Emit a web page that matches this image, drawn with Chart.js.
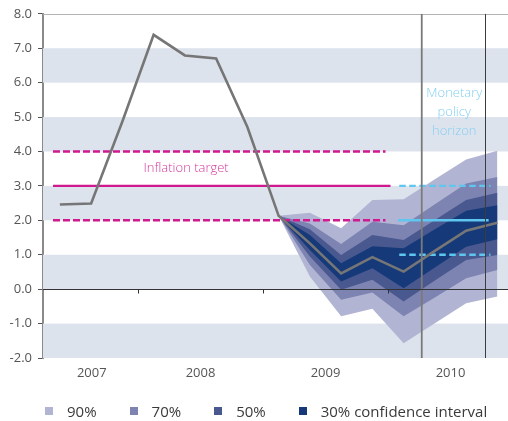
<!DOCTYPE html>
<html>
<head>
<meta charset="utf-8">
<script src="https://cdn.jsdelivr.net/npm/chart.js@4.4.1/dist/chart.umd.min.js"></script>
<style>
  html, body { margin: 0; padding: 0; background: #fff; }
  #wrap { position: relative; width: 508px; height: 421px; }
  #legend { position: absolute; left: 45px; top: 401px; display: flex; align-items: center;
            font: 15px 'Open Sans', sans-serif; color: #3a3a3a; white-space: nowrap; }
  .item { display: flex; align-items: center; margin-right: 33px; }
  .sw { width: 8px; height: 8px; margin-right: 14px; }
</style>
</head>
<body>
<div id="wrap">
  <canvas id="chart" width="508" height="421"></canvas>
  <div id="legend"></div>
</div>
<script>
// Quarterly inflation, outturn and central projection (percent)
const quarters = ['2007 Q2', '2007 Q3', '2007 Q4', '2008 Q1', '2008 Q2', '2008 Q3', '2008 Q4',
                  '2009 Q1', '2009 Q2', '2009 Q3', '2009 Q4', '2010 Q1', '2010 Q2', '2010 Q3', '2010 Q4'];
const inflation = [2.46, 2.49, 4.87, 7.39, 6.79, 6.70, 4.71,
                   2.13, 1.33, 0.46, 0.93, 0.51, 1.11, 1.70, 1.93];

// Confidence intervals of the projection
const fanQuarters = ['2009 Q1', '2009 Q2', '2009 Q3', '2009 Q4', '2010 Q1', '2010 Q2', '2010 Q3', '2010 Q4'];
const upper90 = [2.13, 2.22, 1.77, 2.59, 2.61, 3.19, 3.77, 4.02];
const lower90 = [2.13, 0.37, -0.79, -0.57, -1.57, -0.99, -0.41, -0.21];
const upper70 = [2.13, 1.91, 1.31, 1.96, 1.86, 2.47, 3.07, 3.26];
const lower70 = [2.13, 0.70, -0.31, -0.10, -0.79, -0.24, 0.32, 0.56];
const upper50 = [2.13, 1.74, 0.99, 1.57, 1.43, 2.01, 2.59, 2.80];
const lower50 = [2.13, 0.95, -0.02, 0.27, -0.36, 0.25, 0.85, 0.99];
const upper30 = [2.13, 1.57, 0.75, 1.25, 1.19, 1.74, 2.28, 2.44];
const lower30 = [2.13, 1.14, 0.22, 0.61, 0.03, 0.63, 1.23, 1.45];

// Inflation target and tolerance band
const targetLevels = [4, 3, 2];          // upper bound, target, lower bound
const targetSpan = [2007.32, 2009.98];   // shown until mid-2009 (outturn period)
const horizonSpan = [2010.09, 2010.82];  // target repeated over the policy horizon
const horizonMarks = [2010.27, 2010.78]; // limits of the monetary policy horizon

// Axis ticks
const yTicks = [-2, -1, 0, 1, 2, 3, 4, 5, 6, 7, 8];
const years = ['2007', '2008', '2009', '2010'];
const yearLabelAt = [2007.63, 2008.5, 2009.5, 2010.5];
const xRange = [2007.24, 2010.96];

const bandLabels = ['90%', '70%', '50%', '30% confidence interval'];
const bandColors = ['#b1b5d3', '#7d84b2', '#4a5890', '#163a79'];

const MAGENTA = '#d0198e';
const SKY = '#5ec6ef';

// "2008 Q3" -> mid-quarter position on the time axis
function qx(label) {
  const [y, q] = label.split(' Q');
  return Number(y) + (Number(q) - 0.5) / 4;
}
const pts = (labels, vals) => labels.map((l, i) => ({ x: qx(l), y: vals[i] }));
const hline = (span, y) => [{ x: span[0], y }, { x: span[1], y }];

const lineBase = { pointRadius: 0, tension: 0, fill: false };
const band = (vals, color, order, fillNext) => ({
  ...lineBase, data: pts(fanQuarters, vals), borderWidth: 0, borderColor: 'transparent',
  backgroundColor: color, fill: fillNext ? '+1' : false, order
});

const datasets = [
  { ...lineBase, data: pts(quarters, inflation), borderColor: '#767676', borderWidth: 2.6, order: 1 },
  { ...lineBase, data: hline(targetSpan, targetLevels[0]), borderColor: MAGENTA, borderWidth: 2.4, borderDash: [7, 3], order: 2 },
  { ...lineBase, data: hline(targetSpan, targetLevels[2]), borderColor: MAGENTA, borderWidth: 2.4, borderDash: [7, 3], order: 2 },
  { ...lineBase, data: hline([targetSpan[0], targetSpan[1] + 0.04], targetLevels[1]), borderColor: MAGENTA, borderWidth: 2.4, order: 2 },
  { ...lineBase, data: hline(horizonSpan, targetLevels[0] - 1), borderColor: SKY, borderWidth: 2.4, borderDash: [6.5, 3.5], order: 2 },
  { ...lineBase, data: hline([horizonSpan[0] - 0.01, horizonSpan[1] - 0.015], targetLevels[1] - 1), borderColor: SKY, borderWidth: 2.4, order: 2 },
  { ...lineBase, data: hline(horizonSpan, targetLevels[2] - 1), borderColor: SKY, borderWidth: 2.4, borderDash: [6.5, 3.5], order: 2 },
  { ...lineBase, data: [{ x: horizonMarks[0], y: -2 }, { x: horizonMarks[0], y: 8 }], borderColor: '#7a7a7a', borderWidth: 1.8, order: 0 },
  { ...lineBase, data: [{ x: horizonMarks[1], y: -2 }, { x: horizonMarks[1], y: 8 }], borderColor: '#3c3c3c', borderWidth: 1, order: 0 },
  band(upper90, bandColors[0], 10, true), band(lower90, bandColors[0], 10, false),
  band(upper70, bandColors[1], 9, true), band(lower70, bandColors[1], 9, false),
  band(upper50, bandColors[2], 8, true), band(lower50, bandColors[2], 8, false),
  band(upper30, bandColors[3], 7, true), band(lower30, bandColors[3], 7, false)
];

// Text placed in data coordinates
const notes = [
  { text: 'Inflation target', x: 2008.385, y: 3.52, color: '#d33a9c' },
  { text: 'Monetary', x: 2010.53, y: 5.69, color: '#86d0f2' },
  { text: 'policy', x: 2010.53, y: 5.14, color: '#86d0f2' },
  { text: 'horizon', x: 2010.53, y: 4.59, color: '#86d0f2' }
];

const backdrop = {
  id: 'backdrop',
  beforeDatasetsDraw(chart) {
    const { ctx, chartArea: a, scales: { y } } = chart;
    ctx.save();
    ctx.fillStyle = '#dde3ed';
    for (let v = -2; v < 8; v += 2) {
      const top = y.getPixelForValue(v + 1), bot = y.getPixelForValue(v);
      ctx.fillRect(a.left, top, a.right - a.left, bot - top);
    }
    ctx.strokeStyle = '#b4b4b4';
    ctx.lineWidth = 1;
    ctx.beginPath();
    const t = Math.round(y.getPixelForValue(8)) + 0.5;
    ctx.moveTo(a.left, t); ctx.lineTo(a.right, t);
    ctx.stroke();
    ctx.restore();
  },
  afterDatasetsDraw(chart) {
    const { ctx, chartArea: a, scales: { x, y } } = chart;
    ctx.save();
    const z = Math.round(y.getPixelForValue(0)) + 0.5;
    ctx.strokeStyle = '#333';
    ctx.lineWidth = 1;
    ctx.beginPath();
    ctx.moveTo(a.left, z); ctx.lineTo(a.right, z);
    for (let yr = 2008; yr <= 2010; yr++) {
      const px = Math.round(x.getPixelForValue(yr)) + 0.5;
      ctx.moveTo(px, z); ctx.lineTo(px, z + 4);
    }
    ctx.stroke();
    ctx.font = "300 13px 'Open Sans', sans-serif";
    ctx.textAlign = 'center';
    ctx.textBaseline = 'middle';
    notes.forEach(n => {
      ctx.fillStyle = n.color;
      ctx.fillText(n.text, x.getPixelForValue(n.x), y.getPixelForValue(n.y));
    });
    ctx.restore();
  }
};

new Chart(document.getElementById('chart'), {
  type: 'line',
  data: { datasets },
  plugins: [backdrop],
  options: {
    responsive: false,
    animation: false,
    devicePixelRatio: 1,
    layout: { padding: { top: 13, right: 0, left: 0, bottom: 0 } },
    plugins: { legend: { display: false }, tooltip: { enabled: false } },
    scales: {
      x: {
        type: 'linear', min: xRange[0], max: xRange[1],
        afterBuildTicks: s => { s.ticks = yearLabelAt.map(v => ({ value: v })); },
        afterFit: s => { s.height = 63; },
        ticks: {
          callback: (v, i) => years[i],
          font: { family: "'Open Sans', sans-serif", size: 13 },
          color: '#555', padding: 7, maxRotation: 0, autoSkip: false
        },
        grid: { display: false, drawTicks: false },
        border: { display: false }
      },
      y: {
        min: -2, max: 8,
        afterBuildTicks: s => { s.ticks = yTicks.map(v => ({ value: v })); },
        afterFit: s => { s.width = 43; },
        ticks: {
          callback: v => v.toFixed(1),
          font: { family: "'Open Sans', sans-serif", size: 13 },
          color: '#555', padding: 6
        },
        grid: { drawOnChartArea: false, tickLength: 5, color: '#555', tickWidth: 1 },
        border: { color: '#8a8a8a', width: 2 }
      }
    }
  }
});

// Legend for the confidence bands
const legend = document.getElementById('legend');
bandLabels.forEach((label, i) => {
  const item = document.createElement('div');
  item.className = 'item';
  const sw = document.createElement('span');
  sw.className = 'sw';
  sw.style.background = bandColors[i];
  const tx = document.createElement('span');
  tx.textContent = label;
  item.appendChild(sw); item.appendChild(tx);
  legend.appendChild(item);
});
</script>
</body>
</html>
